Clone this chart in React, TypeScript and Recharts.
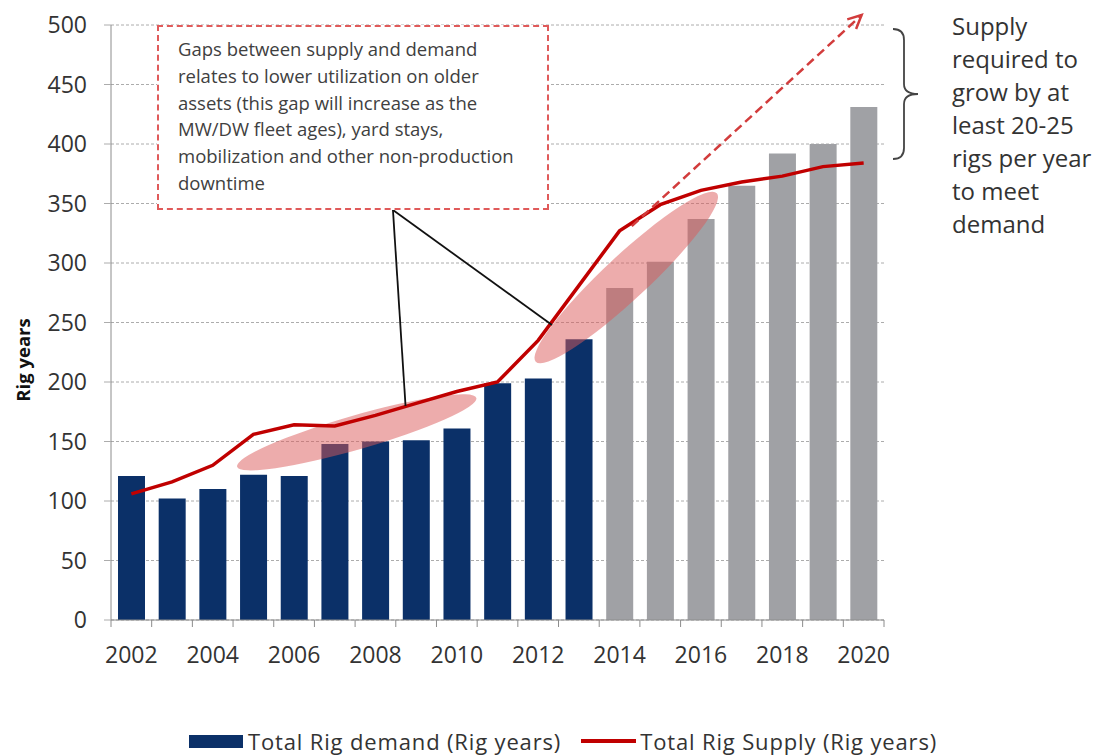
import {
  Bar,
  CartesianGrid,
  Cell,
  ComposedChart,
  Label,
  Legend,
  Line,
  ReferenceLine,
  XAxis,
  YAxis,
} from "recharts";

const years = [
  2002, 2003, 2004, 2005, 2006, 2007, 2008, 2009, 2010, 2011,
  2012, 2013, 2014, 2015, 2016, 2017, 2018, 2019, 2020,
];
const demand = [121, 102, 110, 122, 121, 148, 150, 151, 161, 199, 203, 236, 279, 301, 337, 365, 392, 400, 431];
const supply = [106, 116, 130, 156, 164, 163, 172, 182, 192, 200, 235, 281, 327, 349, 361, 368, 373, 381, 384];
const yTicks = [0, 50, 100, 150, 200, 250, 300, 350, 400, 450, 500];
const firstForecastYear = 2014;

// annotation anchors as [year, rig years]
const gapEllipses = [
  { from: [2004.6, 128.8], to: [2010.48, 186.6], ry: 17 },
  { from: [2011.94, 217], to: [2016.39, 358.6], ry: 22 },
];
const calloutApex = [2008.43, 344.5];
const calloutEnds = [
  [2008.74, 179.8],
  [2012.34, 247.9],
];
const trendArrow = { from: [2014.3, 331], to: [2019.95, 508.4] };

const noteLines = [
  "Gaps between supply and demand",
  "relates to lower utilization on older",
  "assets (this gap will increase as the",
  "MW/DW fleet ages), yard stays,",
  "mobilization and other non-production",
  "downtime",
];
const sideText = ["Supply", "required to", "grow by at", "least 20-25", "rigs per year", "to meet", "demand"];

const W = 1094;
const H = 756;
const PLOT_LEFT = 111;
const PLOT_RIGHT = 884;
const bandW = (PLOT_RIGHT - PLOT_LEFT) / years.length;

const NAVY = "#0b3068";
const GREY = "#a0a1a5";
const RED = "#c00000";
const FONT = "'Open Sans', Lato, sans-serif";

const data = years.map((year, i) => ({ year, demand: demand[i], supply: supply[i] }));

function YearTick(props: any) {
  const { x, y, payload, index } = props;
  const left = x - bandW / 2;
  return (
    <g>
      <line x1={left} x2={left} y1={y} y2={y + 7} stroke="#8c8c8c" />
      {index === years.length - 1 && (
        <line x1={x + bandW / 2} x2={x + bandW / 2} y1={y} y2={y + 7} stroke="#8c8c8c" />
      )}
      {index % 2 === 0 && (
        <text x={x} y={y + 43} textAnchor="middle" fontSize={23} fill="#333" fontFamily={FONT}>
          {String(payload.value)}
        </text>
      )}
    </g>
  );
}

const ellipseShape = (ry: number) => (props: any) => {
  const { x1, y1, x2, y2 } = props;
  if (x1 == null || y1 == null) return <g />;
  const cx = (x1 + x2) / 2;
  const cy = (y1 + y2) / 2;
  const rx = Math.hypot(x2 - x1, y2 - y1) / 2;
  const angle = (Math.atan2(y2 - y1, x2 - x1) * 180) / Math.PI;
  return (
    <ellipse
      cx={cx}
      cy={cy}
      rx={rx}
      ry={ry}
      transform={`rotate(${angle} ${cx} ${cy})`}
      fill="#dc5a5a"
      fillOpacity={0.5}
    />
  );
};

const arrowShape = (props: any) => {
  const { x1, y1, x2, y2 } = props;
  if (x1 == null || y1 == null) return <g />;
  const a = Math.atan2(y2 - y1, x2 - x1);
  const len = 15;
  const spread = 0.45;
  const p1 = [x2 - len * Math.cos(a - spread), y2 - len * Math.sin(a - spread)];
  const p2 = [x2 - len * Math.cos(a + spread), y2 - len * Math.sin(a + spread)];
  return (
    <g stroke="#d23c3c" strokeWidth={2.5} fill="none">
      <line x1={x1} y1={y1} x2={x2} y2={y2} strokeDasharray="9 5" />
      <polyline points={`${p1[0]},${p1[1]} ${x2},${y2} ${p2[0]},${p2[1]}`} />
    </g>
  );
};

const legendContent = () => (
  <div
    style={{
      display: "flex",
      alignItems: "center",
      fontFamily: FONT,
      fontSize: 22,
      lineHeight: "24px",
      letterSpacing: 0.85,
      color: "#333",
      whiteSpace: "nowrap",
    }}
  >
    <span style={{ width: 54, height: 13, background: NAVY, marginRight: 5 }} />
    <span>Total Rig demand (Rig years)</span>
    <span style={{ width: 55, height: 4, background: RED, marginLeft: 20, marginRight: 4 }} />
    <span>Total Rig Supply (Rig years)</span>
  </div>
);

export default function App() {
  return (
    <div style={{ position: "absolute", left: 0, top: 0, width: W, height: H, background: "#fff" }}>
      <ComposedChart
        width={W}
        height={H}
        data={data}
        margin={{ top: 25, right: W - PLOT_RIGHT, bottom: 96, left: 0 }}
      >
        <CartesianGrid vertical={false} stroke="#acacac" strokeDasharray="3 2" />
        <XAxis
          dataKey="year"
          type="number"
          domain={[2001.5, 2020.5]}
          ticks={years}
          height={40}
          interval={0}
          tickSize={0}
          tickMargin={0}
          tickLine={false}
          axisLine={{ stroke: "#8c8c8c" }}
          tick={<YearTick />}
        />
        <YAxis
          width={PLOT_LEFT}
          domain={[0, 500]}
          ticks={yTicks}
          interval={0}
          tickSize={7}
          tickMargin={17}
          axisLine={{ stroke: "#8c8c8c" }}
          tickLine={{ stroke: "#acacac" }}
          tick={{ fontSize: 23, fill: "#333", fontFamily: FONT }}
        >
          <Label
            content={() => (
              <text
                x={22}
                y={360}
                transform="rotate(-90 22 360)"
                textAnchor="middle"
                dominantBaseline="central"
                fontSize={18.5}
                fontWeight="bold"
                fill="#111"
                fontFamily={FONT}
              >
                Rig years
              </text>
            )}
          />
        </YAxis>
        <Bar dataKey="demand" name="Total Rig demand (Rig years)" barSize={27} isAnimationActive={false}>
          {data.map((d) => (
            <Cell key={d.year} fill={d.year >= firstForecastYear ? GREY : NAVY} />
          ))}
        </Bar>
        {gapEllipses.map((e, i) => (
          <ReferenceLine
            key={`gap-${i}`}
            ifOverflow="visible"
            zIndex={350}
            segment={[
              { x: e.from[0], y: e.from[1] },
              { x: e.to[0], y: e.to[1] },
            ]}
            shape={ellipseShape(e.ry)}
          />
        ))}
        <Line
          dataKey="supply"
          name="Total Rig Supply (Rig years)"
          type="linear"
          stroke={RED}
          strokeWidth={3.5}
          dot={false}
          isAnimationActive={false}
        />
        <ReferenceLine
          ifOverflow="visible"
          segment={[
            { x: trendArrow.from[0], y: trendArrow.from[1] },
            { x: trendArrow.to[0], y: trendArrow.to[1] },
          ]}
          shape={arrowShape}
        />
        {calloutEnds.map((end, i) => (
          <ReferenceLine
            key={`callout-${i}`}
            ifOverflow="visible"
            stroke="#111"
            strokeWidth={1.8}
            segment={[
              { x: calloutApex[0], y: calloutApex[1] },
              { x: end[0], y: end[1] },
            ]}
          />
        ))}
        <Legend
          layout="horizontal"
          verticalAlign="middle"
          align="center"
          wrapperStyle={{ left: 189, top: 729, width: "auto" }}
          content={legendContent}
        />
      </ComposedChart>

      <div
        style={{
          position: "absolute",
          left: 157,
          top: 25,
          width: 392,
          height: 185,
          boxSizing: "border-box",
          border: "2px dashed #e05a5a",
          background: "#fff",
          padding: "9px 0 0 19px",
          fontFamily: FONT,
          fontSize: 18.5,
          lineHeight: "26.8px",
          color: "#404040",
          whiteSpace: "nowrap",
        }}
      >
        {noteLines.map((t) => (
          <div key={t}>{t}</div>
        ))}
      </div>

      <svg
        width={W}
        height={H}
        style={{ position: "absolute", left: 0, top: 0, pointerEvents: "none" }}
      >
        <path
          d="M893 29 Q904 29 904 40 L904 84 Q904 94 918 94 Q904 94 904 104 L904 148 Q904 159 893 159"
          fill="none"
          stroke="#444"
          strokeWidth={1.8}
        />
      </svg>

      <div
        style={{
          position: "absolute",
          left: 952,
          top: 9,
          fontFamily: FONT,
          fontSize: 24,
          lineHeight: "33px",
          color: "#333",
          whiteSpace: "nowrap",
        }}
      >
        {sideText.map((t) => (
          <div key={t}>{t}</div>
        ))}
      </div>
    </div>
  );
}
